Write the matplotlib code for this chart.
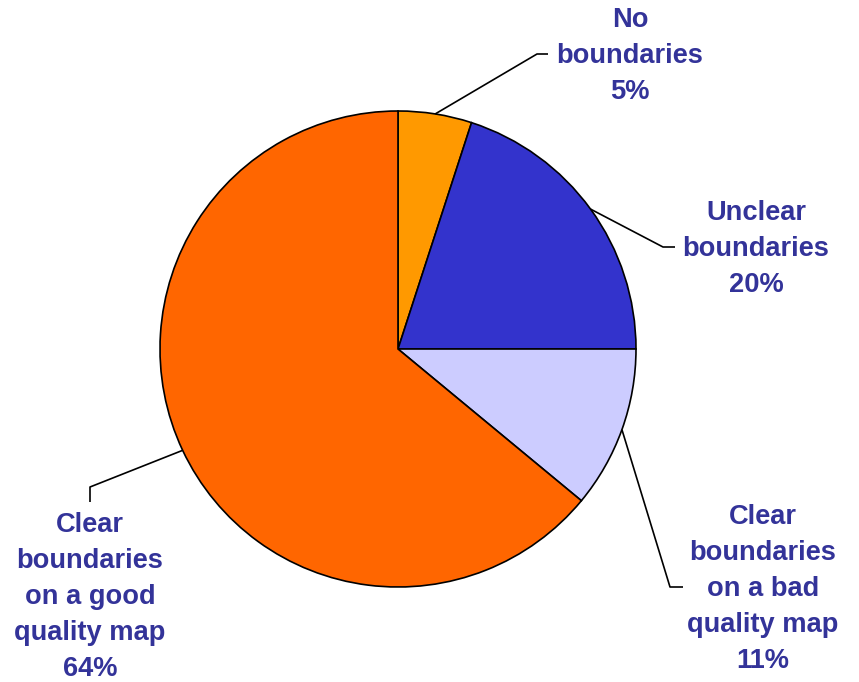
import numpy as np
import matplotlib
matplotlib.use("Agg")
import matplotlib.pyplot as plt

labels = ["No\nboundaries", "Unclear\nboundaries", "Clear\nboundaries\non a bad\nquality map", "Clear\nboundaries\non a good\nquality map"]
values = [5, 20, 11, 64]
colors = ["#FF9900", "#3333CC", "#CCCCFF", "#FF6600"]

W, H = 859, 682
fig = plt.figure(figsize=(W / 100, H / 100), dpi=100)
ax = fig.add_axes([0, 0, 1, 1])
cx, cy, R = 398, H - 349, 238
wedges, _ = ax.pie(values, colors=colors, startangle=90, counterclock=False,
                   center=(cx, cy), radius=R,
                   wedgeprops=dict(edgecolor="black", linewidth=1.2))
ax.set_xlim(0, W)
ax.set_ylim(0, H)
ax.set_aspect("equal")
ax.axis("off")

# layout: elbow points (pixel, y down) and label centres
elbows = [[(537, 54), (548, 54)], [(663, 247), (675, 247)],
          [(670, 587), (683, 587)], [(90, 487), (90, 502)]]
label_pos = [(630, 56), (756, 249), (763, 589), (90, 597)]

for w, v, lab, el, lp in zip(wedges, values, labels, elbows, label_pos):
    ang = np.deg2rad((w.theta1 + w.theta2) / 2)
    x0, y0 = cx + R * np.cos(ang), cy + R * np.sin(ang)
    xs = [x0] + [p[0] for p in el]
    ys = [y0] + [H - p[1] for p in el]
    ax.plot(xs, ys, color="black", lw=1.2, solid_capstyle="butt")
    ax.text(lp[0], H - lp[1], f"{lab}\n{v}%", ha="center", va="center",
            fontsize=19.6, fontweight="bold", family="Liberation Sans",
            color="#333399", linespacing=1.51)

fig.savefig("out.png", dpi=100)
